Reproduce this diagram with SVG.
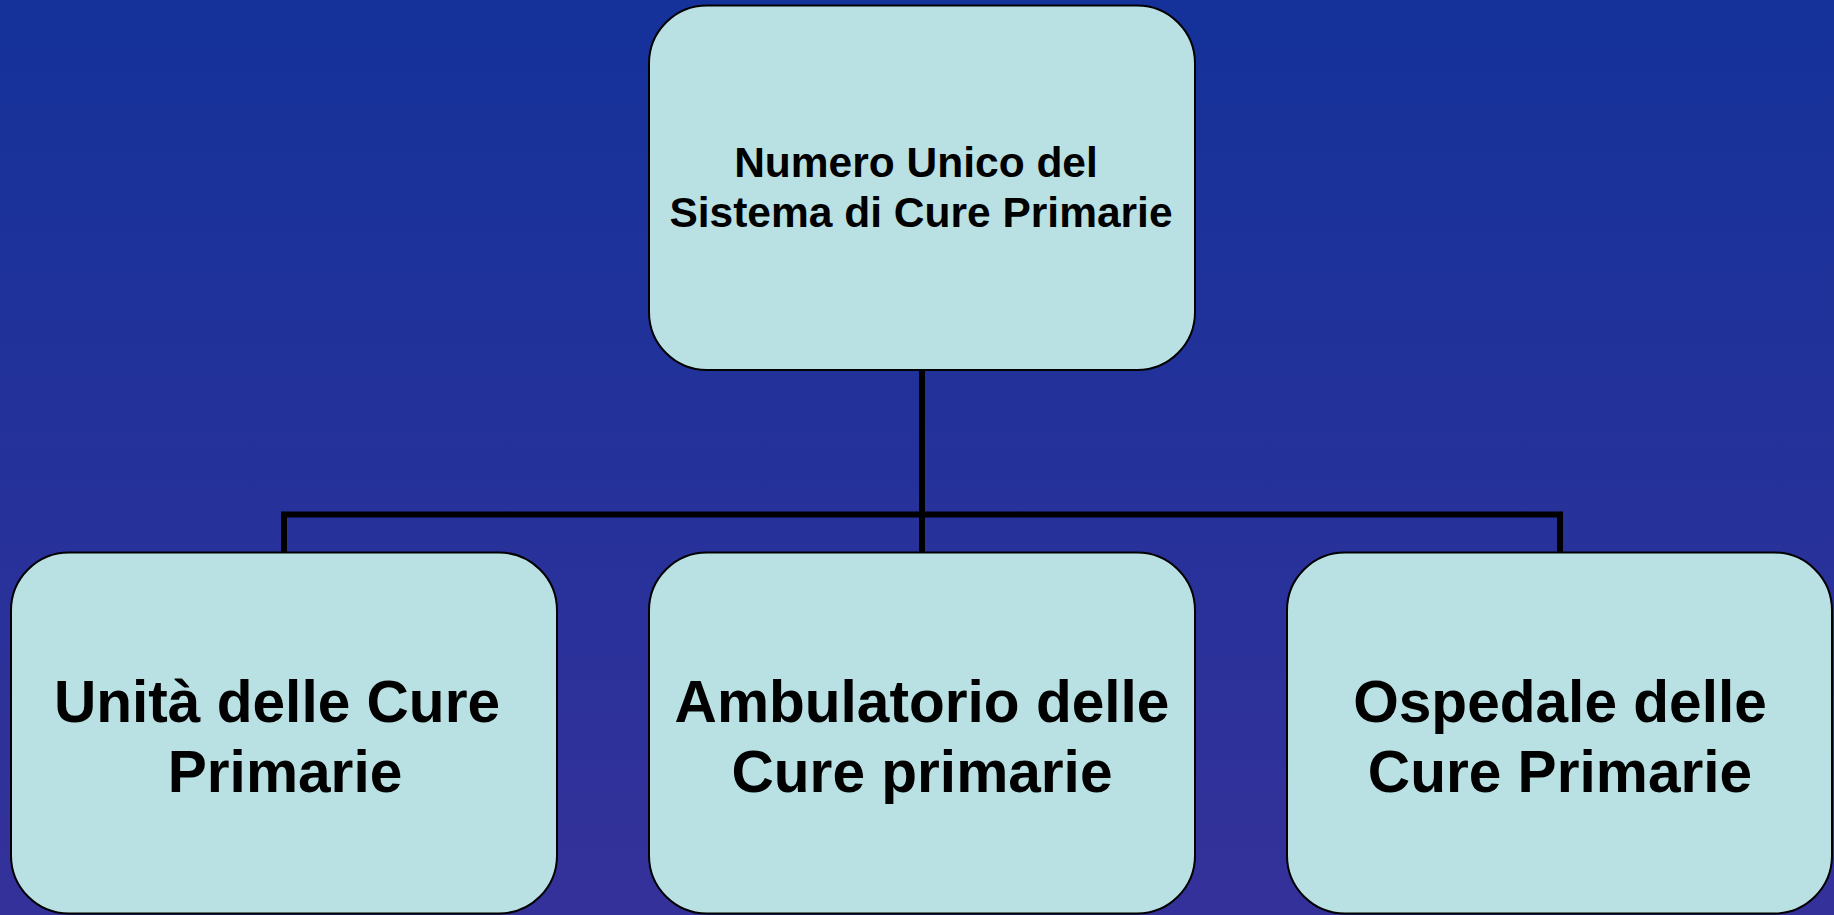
<svg xmlns="http://www.w3.org/2000/svg" width="1834" height="915" viewBox="0 0 1834 915">
<defs>
<linearGradient id="bg" x1="0" y1="0" x2="0" y2="1">
<stop offset="0" stop-color="#14329A"/>
<stop offset="1" stop-color="#35319A"/>
</linearGradient>
<style>
.box{fill:#B9E0E3;stroke:#000;stroke-width:2}
.t{font-family:"Liberation Sans",Arial,sans-serif;font-weight:bold;fill:#000;text-anchor:middle}
.top{font-size:42.5px}
.big{font-size:58.6px}
.conn{fill:none;stroke:#000;stroke-width:6}
</style>
</defs>
<rect width="1834" height="915" fill="url(#bg)"/>
<g id="connectors">
<path class="conn" d="M922 370 V514.5 M284 552 V514.5 H1560 V552 M922 514.5 V552"/>
</g>
<g id="node-top">
<rect class="box" x="649" y="5.5" width="546" height="364.5" rx="58" ry="58"/>
<text class="t top" x="916" y="177">Numero Unico del</text>
<text class="t top" x="921" y="227">Sistema di Cure Primarie</text>
</g>
<g id="node-unita">
<rect class="box" x="11" y="552.5" width="546" height="361" rx="58" ry="58"/>
<text class="t big" x="277" y="722">Unità delle Cure</text>
<text class="t big" x="285" y="792">Primarie</text>
</g>
<g id="node-ambulatorio">
<rect class="box" x="649" y="552.5" width="546" height="361" rx="58" ry="58"/>
<text class="t big" x="922" y="722">Ambulatorio delle</text>
<text class="t big" x="922" y="792">Cure primarie</text>
</g>
<g id="node-ospedale">
<rect class="box" x="1287" y="552.5" width="545" height="361" rx="58" ry="58"/>
<text class="t big" x="1560" y="722">Ospedale delle</text>
<text class="t big" x="1560" y="792">Cure Primarie</text>
</g>
</svg>
